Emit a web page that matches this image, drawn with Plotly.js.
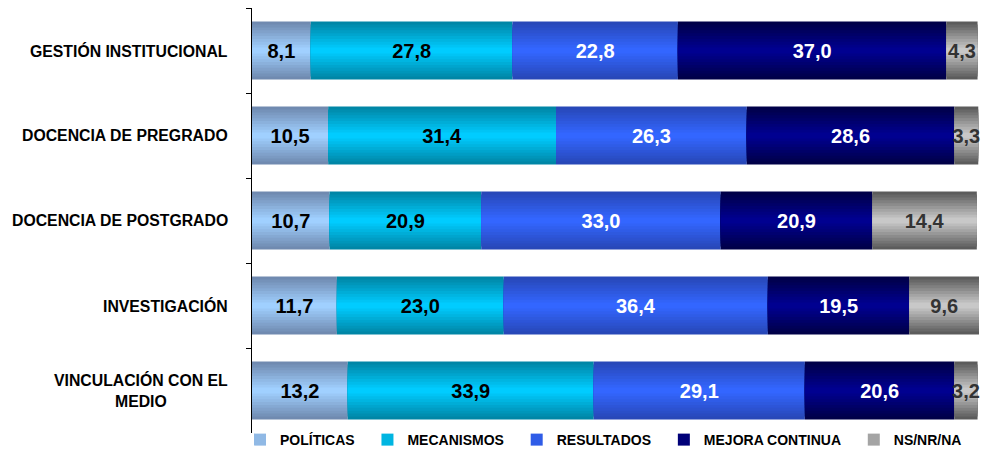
<!DOCTYPE html>
<html>
<head>
<meta charset="utf-8">
<script src="https://cdn.plot.ly/plotly-3.0.1.min.js"></script>
<style>html,body{margin:0;padding:0;background:#fff;}#chart{width:995px;height:450px;}</style>
</head>
<body>
<div id="chart"></div>
<script>
// ---- data ----
const categories = ['GESTIÓN INSTITUCIONAL', 'DOCENCIA DE PREGRADO', 'DOCENCIA DE POSTGRADO', 'INVESTIGACIÓN', 'VINCULACIÓN CON EL MEDIO'];
const categoryLabels = ['GESTIÓN INSTITUCIONAL', 'DOCENCIA DE PREGRADO', 'DOCENCIA DE POSTGRADO', 'INVESTIGACIÓN', 'VINCULACIÓN CON EL<br>MEDIO'];
const seriesNames = ['POLÍTICAS', 'MECANISMOS', 'RESULTADOS', 'MEJORA CONTINUA', 'NS/NR/NA'];
const politicas  = [8.1, 10.5, 10.7, 11.7, 13.2];
const mecanismos = [27.8, 31.4, 20.9, 23.0, 33.9];
const resultados = [22.8, 26.3, 33.0, 36.4, 29.1];
const mejora     = [37.0, 28.6, 20.9, 19.5, 20.6];
const nsnrna     = [4.3, 3.3, 14.4, 9.6, 3.2];

// ---- styles ----
const seriesValues = [politicas, mecanismos, resultados, mejora, nsnrna];
const edgeColors   = [[112,138,176], [0,134,166], [40,72,184], [0,0,72], [92,92,92]];
const centerColors = [[160,208,255], [0,204,255], [51,102,255], [0,0,144], [200,200,200]];
const textColors   = ['#000000', '#000000', '#ffffff', '#ffffff', '#333333'];
const BAR_W = 0.68;
const LAYERS = 10;
const FONT = 'Liberation Sans, Arial, sans-serif';

function mix(a, b, t) {
  return 'rgb(' + a.map((v, i) => Math.round(v + (b[i] - v) * t)).join(',') + ')';
}
function fmt(v) { return v.toFixed(1).replace('.', ','); }

// cumulative bases
const bases = [];
let running = categories.map(() => 0);
seriesValues.forEach(vals => {
  bases.push(running.slice());
  running = running.map((r, i) => r + vals[i]);
});

const traces = [];
seriesValues.forEach((vals, s) => {
  for (let l = 0; l < LAYERS; l++) {
    const t = l / (LAYERS - 1);
    const w = BAR_W * (1 - l / LAYERS);
    traces.push({
      type: 'bar', orientation: 'h',
      y: categories, x: vals, base: bases[s],
      width: categories.map(() => w),
      name: seriesNames[s] + '\u00a0\u00a0',
      marker: { color: mix(edgeColors[s], centerColors[s], t), line: { width: 0 } },
      showlegend: l === Math.floor(LAYERS * 0.6),
      legendgroup: seriesNames[s],
      cliponaxis: false,
      hoverinfo: 'skip'
    });
  }
});
seriesValues.forEach((vals, s) => {
  traces.push({
    type: 'bar', orientation: 'h',
    y: categories, x: vals, base: bases[s],
    width: categories.map(() => BAR_W),
    marker: { color: 'rgba(0,0,0,0)', line: { width: 0 } },
    text: vals.map(fmt),
    textposition: 'inside',
    insidetextanchor: 'middle',
    textangle: 0,
    constraintext: 'none',
    cliponaxis: false,
    textfont: { family: FONT, size: 20, weight: 'bold', color: textColors[s] },
    showlegend: false,
    hoverinfo: 'skip'
  });
});

const annotations = categories.map((c, i) => ({
  xref: 'paper', yref: 'y', x: -0.0303, y: c,
  xanchor: 'right', yanchor: 'middle', align: 'center',
  text: categoryLabels[i], showarrow: false,
  font: { family: FONT, size: 15.8, weight: 'bold', color: '#000' }
}));

const layout = {
  width: 995, height: 450,
  margin: { l: 252, r: 16, t: 8, b: 17, autoexpand: false },
  paper_bgcolor: '#fff', plot_bgcolor: '#fff',
  barmode: 'overlay',
  showlegend: true,
  legend: {
    orientation: 'h', x: -0.0165, xanchor: 'left', y: -0.0165, yanchor: 'middle',
    font: { family: FONT, size: 14, weight: 'bold', color: '#000' },
    itemwidth: 30, traceorder: 'normal', bgcolor: 'rgba(0,0,0,0)'
  },
  xaxis: { range: [0, 100.2], visible: false, showgrid: false, zeroline: false, fixedrange: true },
  yaxis: {
    type: 'category', autorange: 'reversed',
    showline: true, linecolor: '#000', linewidth: 1,
    ticks: 'outside', ticklen: 5, tickcolor: '#000', tickson: 'boundaries',
    showticklabels: false, showgrid: false, zeroline: false, fixedrange: true
  },
  annotations: annotations,
  hovermode: false
};

Plotly.newPlot('chart', traces, layout, { staticPlot: true, displayModeBar: false });
</script>
</body>
</html>
